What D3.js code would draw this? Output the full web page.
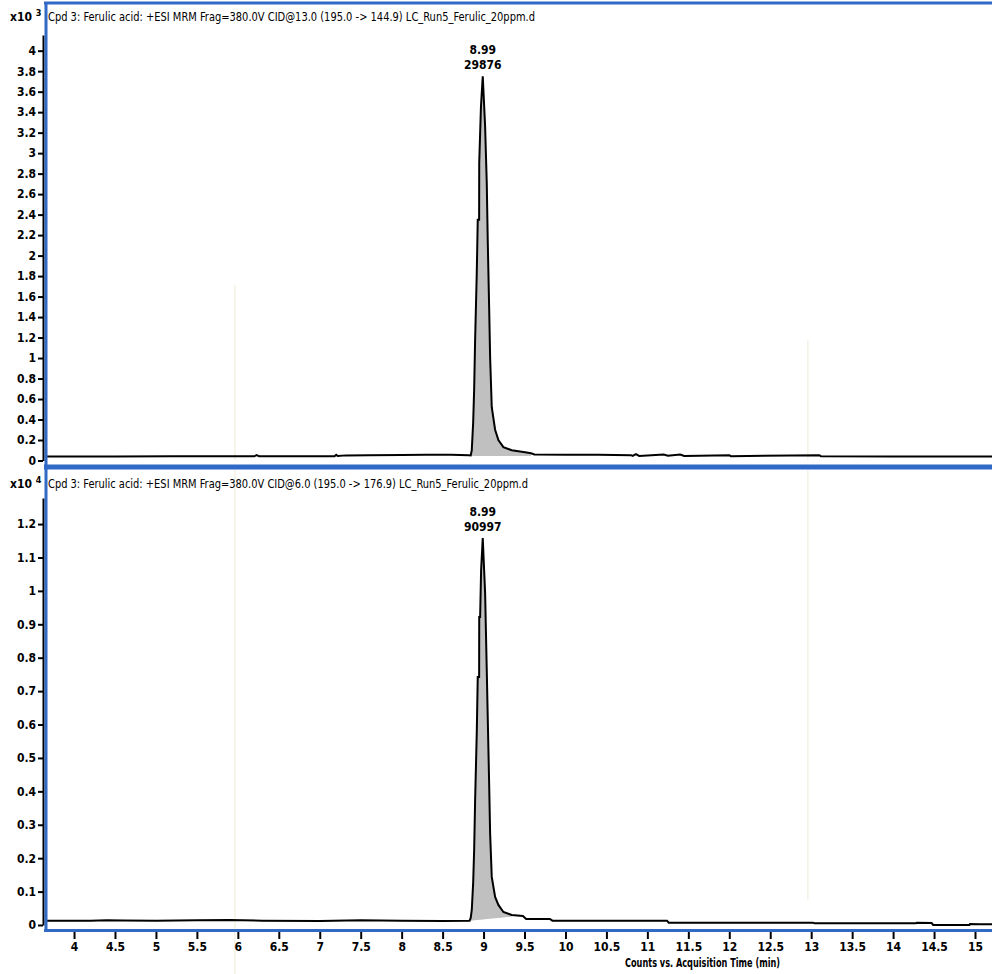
<!DOCTYPE html>
<html>
<head>
<meta charset="utf-8">
<script src="https://cdn.jsdelivr.net/npm/d3@7"></script>
<style>
  html, body { margin: 0; padding: 0; background: #fff; }
  svg { display: block; }
  text { font-family: "Liberation Sans Narrow", "DejaVu Sans Condensed", "Arial Narrow", sans-serif; fill: #000; }
</style>
</head>
<body>
<svg id="chart" width="992" height="974"></svg>
<script>
// Extracted ion chromatograms, counts vs. acquisition time (min)
const titles = [
  "Cpd 3: Ferulic acid: +ESI MRM Frag=380.0V CID@13.0 (195.0 -> 144.9) LC_Run5_Ferulic_20ppm.d",
  "Cpd 3: Ferulic acid: +ESI MRM Frag=380.0V CID@6.0 (195.0 -> 176.9) LC_Run5_Ferulic_20ppm.d"
];
const exponents = ["3", "4"];
const xTitle = "Counts vs. Acquisition Time (min)";

// retention time and integrated area of the labelled peak
const peakRT = [8.99, 8.99];
const peakArea = [29876, 90997];

// integration window of the shaded peak
const peakStart = [8.843, 8.843];
const peakEnd = [9.58, 9.344];

// time axis
const timeDomain = [3.67, 15.2075];
const xTicks = [4, 4.5, 5, 5.5, 6, 6.5, 7, 7.5, 8, 8.5, 9, 9.5, 10, 10.5, 11, 11.5, 12, 12.5, 13, 13.5, 14, 14.5, 15];

// intensity axes (x10^3 and x10^4 counts)
const yTicksTop = [0, 0.2, 0.4, 0.6, 0.8, 1, 1.2, 1.4, 1.6, 1.8, 2, 2.2, 2.4, 2.6, 2.8, 3, 3.2, 3.4, 3.6, 3.8, 4];
const yTicksBottom = [0, 0.1, 0.2, 0.3, 0.4, 0.5, 0.6, 0.7, 0.8, 0.9, 1, 1.1, 1.2];
const yMaxTop = 4.153;
const yMaxBottom = 1.278;

// time-segment markers
const segmentTimes = [5.965, 12.96];

// 195.0 -> 144.9 trace, x10^3 counts
const traceTop = [
  [3.67, 0.040], [4.50, 0.040], [5.20, 0.041], [6.20, 0.041], [6.23, 0.052], [6.26, 0.041],
  [7.18, 0.042], [7.20, 0.055], [7.22, 0.043], [7.32, 0.050], [7.60, 0.052], [8.00, 0.053],
  [8.30, 0.055], [8.60, 0.056], [8.82, 0.052],
  [8.843, 0.05], [8.856, 0.10], [8.873, 0.37], [8.885, 0.69], [8.897, 1.18], [8.917, 1.83],
  [8.929, 2.35], [8.946, 2.35], [8.947, 2.90], [8.968, 3.45], [8.99, 3.75], [9.019, 3.26],
  [9.039, 2.71], [9.051, 2.15], [9.068, 1.50], [9.080, 1.01], [9.100, 0.52], [9.141, 0.30],
  [9.181, 0.20], [9.242, 0.13], [9.344, 0.10], [9.507, 0.08], [9.58, 0.07],
  [9.62, 0.058], [10.0, 0.056], [10.4, 0.055], [10.80, 0.052], [10.82, 0.045], [10.86, 0.062],
  [10.90, 0.044], [11.20, 0.058], [11.25, 0.046], [11.40, 0.058], [11.45, 0.044], [12.00, 0.052],
  [12.02, 0.042], [13.10, 0.052], [13.12, 0.041], [14.0, 0.040], [15.21, 0.040]
];

// 195.0 -> 176.9 trace, x10^4 counts
const traceBottom = [
  [3.67, 0.013], [4.2, 0.013], [4.4, 0.014], [4.6, 0.0135], [5.0, 0.013], [5.5, 0.014],
  [5.9, 0.015], [6.3, 0.013], [7.0, 0.012], [7.5, 0.014], [8.0, 0.013], [8.5, 0.012], [8.83, 0.013],
  [8.843, 0.021], [8.856, 0.045], [8.873, 0.126], [8.885, 0.224], [8.897, 0.374], [8.917, 0.575],
  [8.929, 0.742], [8.946, 0.742], [8.947, 0.922], [8.958, 0.922], [8.970, 1.062], [8.99, 1.158],
  [9.019, 0.993], [9.039, 0.763], [9.051, 0.622], [9.068, 0.425], [9.080, 0.275], [9.100, 0.144],
  [9.141, 0.084], [9.181, 0.060], [9.242, 0.039], [9.344, 0.030],
  [9.48, 0.027], [9.52, 0.018], [9.81, 0.018], [9.84, 0.013], [10.5, 0.013], [11.24, 0.013],
  [11.26, 0.007], [12.0, 0.007], [13.02, 0.007], [13.04, 0.005], [14.28, 0.005], [14.29, 0.007],
  [14.47, 0.006], [14.49, 0.0], [14.93, 0.0], [14.94, 0.003], [15.06, 0.002], [15.21, 0.002]
];

const panels = [
  { trace: traceTop, yTicks: yTicksTop, yMax: yMaxTop, y0: 460.5, yTop: 35,
    frameTop: 3, frameBottom: 467, titleY: 21, fillBase: [0.044, 0.044],
    segmentSpans: [[285, 460], [340, 460]] },
  { trace: traceBottom, yTicks: yTicksBottom, yMax: yMaxBottom, y0: 925, yTop: 498,
    frameTop: 467, frameBottom: 931, titleY: 488, fillBase: [0.013, 0.025],
    segmentSpans: [[470, 974], [470, 900]] }
];

const blue = "#3169c6";
const left = 47, right = 992;
const svg = d3.select("#chart");

const x = d3.scaleLinear().domain(timeDomain).range([left, right]);
const fmt = d => String(+d.toFixed(1));

panels.forEach((p, i) => {
  const y = d3.scaleLinear().domain([0, p.yMax]).range([p.y0, p.yTop]);
  const g = svg.append("g");

  // faint segment markers
  segmentTimes.forEach((t, k) => {
    g.append("line")
      .attr("x1", x(t)).attr("x2", x(t))
      .attr("y1", p.segmentSpans[k][0]).attr("y2", p.segmentSpans[k][1])
      .attr("stroke", "#efe9d6").attr("stroke-width", 1);
  });

  // shaded integrated peak
  const inPeak = p.trace.filter(d => d[0] >= peakStart[i] && d[0] <= peakEnd[i]);
  const baseAt = t => p.fillBase[0] + (p.fillBase[1] - p.fillBase[0]) * (t - peakStart[i]) / (peakEnd[i] - peakStart[i]);
  g.append("path")
    .datum(inPeak)
    .attr("fill", "#c0c0c0")
    .attr("d", d3.area().x(d => x(d[0])).y0(d => y(baseAt(d[0]))).y1(d => y(d[1])));

  // chromatogram trace
  g.append("path")
    .datum(p.trace)
    .attr("fill", "none").attr("stroke", "#000").attr("stroke-width", 2)
    .attr("d", d3.line().x(d => x(d[0])).y(d => y(d[1])));

  // peak annotation
  const apex = p.trace.find(d => d[0] === peakRT[i]);
  const ax = x(peakRT[i]);
  g.append("text").attr("x", ax).attr("y", y(apex[1]) - 22)
    .attr("text-anchor", "middle").attr("font-size", 12).attr("font-weight", "bold")
    .text(peakRT[i].toFixed(2));
  g.append("text").attr("x", ax).attr("y", y(apex[1]) - 7)
    .attr("text-anchor", "middle").attr("font-size", 12).attr("font-weight", "bold")
    .text(peakArea[i]);

  // y axis
  const yAxis = g.append("g")
    .attr("transform", "translate(43,0)")
    .call(d3.axisLeft(y).tickValues(p.yTicks).tickFormat(fmt).tickSizeInner(5).tickSizeOuter(0).tickPadding(2));
  yAxis.select(".domain").attr("stroke", "#000").attr("stroke-width", 2);
  yAxis.selectAll(".tick line").attr("stroke", "#000").attr("stroke-width", 2);
  yAxis.selectAll(".tick text").attr("font-size", 12).attr("font-weight", "bold")
    .attr("font-family", "'Liberation Sans Narrow', 'DejaVu Sans Condensed', sans-serif").attr("fill", "#000");

  // blue panel frame
  g.append("line").attr("x1", 44).attr("x2", right).attr("y1", p.frameTop).attr("y2", p.frameTop)
    .attr("stroke", blue).attr("stroke-width", i === 0 ? 3 : 5);
  g.append("line").attr("x1", 46).attr("x2", 46).attr("y1", p.frameTop).attr("y2", p.frameBottom)
    .attr("stroke", blue).attr("stroke-width", 3);

  // panel title and exponent
  g.append("text").attr("x", 48).attr("y", p.titleY).attr("font-size", 12)
    .attr("textLength", i === 0 ? 487 : 480).attr("lengthAdjust", "spacingAndGlyphs")
    .text(titles[i]);
  const ex = g.append("text").attr("x", 10).attr("y", p.titleY).attr("font-size", 12).attr("font-weight", "bold");
  ex.append("tspan").text("x10 ");
  ex.append("tspan").attr("dy", -5).attr("font-size", 9).text(exponents[i]);
});

// bottom frame line
svg.append("line").attr("x1", 44).attr("x2", right).attr("y1", 930.5).attr("y2", 930.5)
  .attr("stroke", blue).attr("stroke-width", 3);

// time axis
const xAxis = svg.append("g")
  .attr("transform", "translate(0,932)")
  .call(d3.axisBottom(x).tickValues(xTicks).tickFormat(fmt).tickSizeInner(7).tickSizeOuter(0).tickPadding(3));
xAxis.select(".domain").remove();
xAxis.selectAll(".tick line").attr("stroke", "#000").attr("stroke-width", 2);
xAxis.selectAll(".tick text").attr("font-size", 12).attr("font-weight", "bold")
  .attr("font-family", "'Liberation Sans Narrow', 'DejaVu Sans Condensed', sans-serif").attr("fill", "#000");

svg.append("text").attr("x", 625).attr("y", 967).attr("font-size", 12).attr("font-weight", "bold")
  .attr("textLength", 155).attr("lengthAdjust", "spacingAndGlyphs")
  .text(xTitle);
</script>
</body>
</html>
